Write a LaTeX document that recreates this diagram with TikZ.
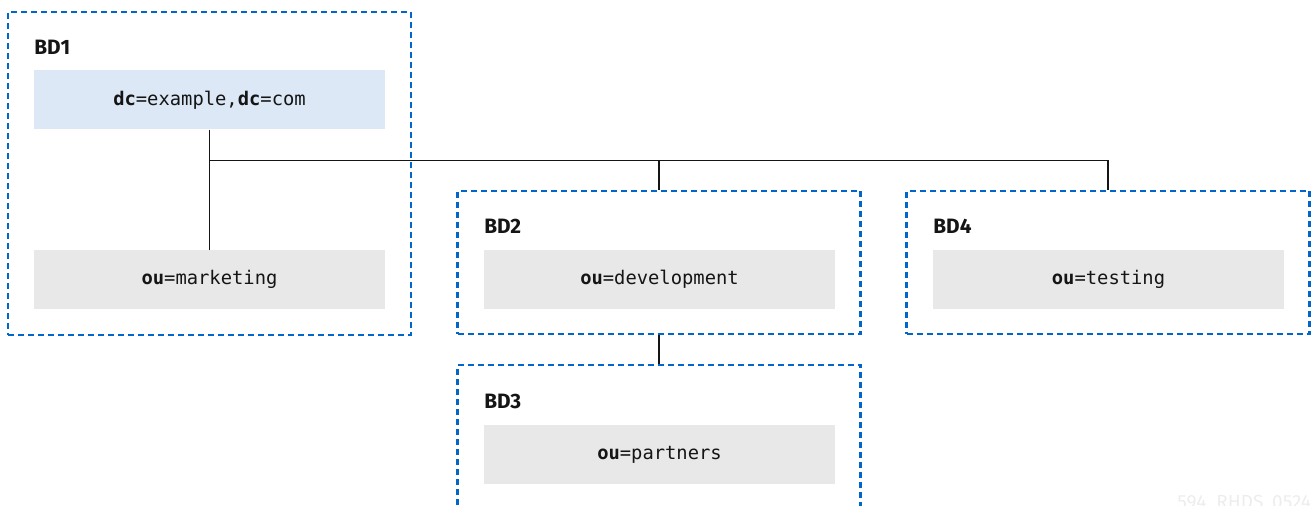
\documentclass[tikz,border=0pt]{standalone}
\usepackage{fontspec}
\setsansfont{Fira Sans}
\setmonofont{DejaVu Sans Mono}
\definecolor{rhblue}{HTML}{0066CC}
\definecolor{dnblue}{HTML}{DCE8F6}
\definecolor{dngray}{HTML}{E8E8E8}
\definecolor{ink}{HTML}{151515}
\tikzset{
  bdbox/.style={draw=rhblue,line width=1.1pt,dash pattern=on 3pt off 2pt,
    minimum width=201.5pt,inner sep=0pt},
  entry/.style={fill=dngray,minimum width=175.5pt,minimum height=29.5pt,inner sep=0pt,
    font=\ttfamily\fontsize{9.4}{11}\selectfont,text=ink},
  bdlabel/.style={anchor=west,inner sep=0pt,font=\sffamily\bfseries\fontsize{10.4}{12}\selectfont,text=ink},
  link/.style={draw=ink,line width=0.75pt}
}
\begin{document}
\begin{tikzpicture}[x=0.5pt,y=-0.5pt]
  \useasboundingbox (0,0) rectangle (1313,506);
  \node[bdbox,minimum height=161.5pt] (bd1) at (209.5,173.5) {};
  \node[bdbox,minimum height=71.5pt] (bd2) at (659,262.5) {};
  \node[bdbox,minimum height=71.5pt] (bd4) at (1108,262.5) {};
  \node[bdbox,minimum height=80pt] (bd3) at (659,445) {};%open at the bottom
  \node[bdlabel] (bd1lab) at (34,47) {BD1};
  \node[bdlabel] (bd2lab) at (484,226) {BD2};
  \node[bdlabel] (bd4lab) at (933,226) {BD4};
  \node[bdlabel] (bd3lab) at (484,401) {BD3};
  \node[entry,fill=dnblue] (dc) at (209.5,100) {\textbf{dc}=example,\textbf{dc}=com};
  \node[entry] (mkt) at (209.5,279.5) {\textbf{ou}=marketing};
  \node[entry] (dev) at (659.5,279.5) {\textbf{ou}=development};
  \node[entry] (tst) at (1108.5,279.5) {\textbf{ou}=testing};
  \node[entry] (prt) at (659.5,454.5) {\textbf{ou}=partners};
  \coordinate (bus) at (209.5,160.5);
  \draw[link] (dc.south) -- (mkt.north);
  \draw[link] (bus) -- (bus -| bd4.north) -- (bd4.north);
  \draw[link] (bus -| bd2.north) -- (bd2.north);
  \draw[link] (bd2.south) -- (bd3.north);
  \node[anchor=base west,inner sep=0pt,text=black!7,font=\sffamily\fontsize{9.5}{11}\selectfont] (mark) at (1177,509) {594\_RHDS\_0524};
\end{tikzpicture}
\end{document}
